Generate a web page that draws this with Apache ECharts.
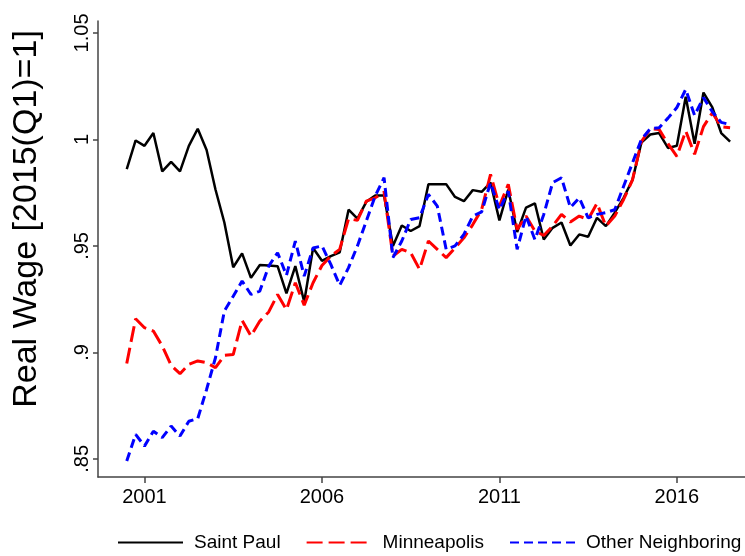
<!DOCTYPE html>
<html>
<head>
<meta charset="utf-8">
<script src="https://cdn.jsdelivr.net/npm/echarts@6/dist/echarts.min.js"></script>
<style>html,body{margin:0;padding:0;background:#fff;}</style>
</head>
<body>
<div id="myChart" style="width:745px;height:556px;"></div>
<script>
// quarterly observations, 2000Q3 - 2017Q3
var quarters = [
  '2000Q3','2000Q4','2001Q1','2001Q2','2001Q3','2001Q4','2002Q1','2002Q2','2002Q3','2002Q4',
  '2003Q1','2003Q2','2003Q3','2003Q4','2004Q1','2004Q2','2004Q3','2004Q4','2005Q1','2005Q2',
  '2005Q3','2005Q4','2006Q1','2006Q2','2006Q3','2006Q4','2007Q1','2007Q2','2007Q3','2007Q4',
  '2008Q1','2008Q2','2008Q3','2008Q4','2009Q1','2009Q2','2009Q3','2009Q4','2010Q1','2010Q2',
  '2010Q3','2010Q4','2011Q1','2011Q2','2011Q3','2011Q4','2012Q1','2012Q2','2012Q3','2012Q4',
  '2013Q1','2013Q2','2013Q3','2013Q4','2014Q1','2014Q2','2014Q3','2014Q4','2015Q1','2015Q2',
  '2015Q3','2015Q4','2016Q1','2016Q2','2016Q3','2016Q4','2017Q1','2017Q2','2017Q3'
]
var saintPaul = [
  0.986, 0.9995, 0.997, 1.003, 0.985, 0.9895, 0.985, 0.997, 1.005, 0.995,
  0.9765, 0.961, 0.940, 0.9465, 0.935, 0.941, 0.9408, 0.9405, 0.9277, 0.9405,
  0.9238, 0.949, 0.943, 0.9452, 0.947, 0.967, 0.9628, 0.9707, 0.9737, 0.9737,
  0.950, 0.9596, 0.957, 0.9593, 0.979, 0.979, 0.979, 0.973, 0.971, 0.9762,
  0.9754, 0.9797, 0.962, 0.9765, 0.9565, 0.968, 0.970, 0.953, 0.9585, 0.961,
  0.9502, 0.9554, 0.9543, 0.9632, 0.9593, 0.9656, 0.9726, 0.981, 0.9985, 1.0023,
  1.003, 0.996, 0.997, 1.020, 0.998, 1.022, 1.015, 1.003, 0.999
]
var minneapolis = [
  0.8948, 0.9158, 0.9116, 0.910, 0.903, 0.8939, 0.890, 0.8944, 0.896, 0.8952,
  0.8928, 0.8986, 0.899, 0.915, 0.9077, 0.9147, 0.919, 0.9272, 0.920, 0.9327,
  0.9222, 0.9327, 0.9408, 0.9452, 0.9484, 0.9628, 0.962, 0.971, 0.9726, 0.9753,
  0.9452, 0.9484, 0.9468, 0.939, 0.9523, 0.9484, 0.9445, 0.949, 0.9538, 0.960,
  0.9671, 0.9836, 0.9687, 0.9789, 0.9577, 0.964, 0.957, 0.9549, 0.9593, 0.9648,
  0.9612, 0.964, 0.9624, 0.970, 0.9593, 0.964, 0.9718, 0.981, 0.999, 1.005,
  1.0047, 0.998, 0.992, 1.004, 0.993, 1.006, 1.0125, 1.006, 1.0055
]
var otherNeighboring = [
  0.849, 0.8615, 0.856, 0.863, 0.860, 0.8654, 0.8607, 0.8677, 0.8689, 0.8826,
  0.8975, 0.9194, 0.9264, 0.9335, 0.9272, 0.9288, 0.9405, 0.9468, 0.9362, 0.9523,
  0.9358, 0.949, 0.950, 0.9413, 0.9315, 0.9398, 0.950, 0.9617, 0.9734, 0.982,
  0.9445, 0.9523, 0.9624, 0.9632, 0.9742, 0.9687, 0.9484, 0.950, 0.9554, 0.964,
  0.966, 0.9797, 0.967, 0.9757, 0.9484, 0.964, 0.953, 0.9648, 0.9797, 0.982,
  0.968, 0.9726, 0.9632, 0.9648, 0.9656, 0.967, 0.978, 0.989, 1.0, 1.005,
  1.0055, 1.010, 1.015, 1.0235, 1.0113, 1.0196, 1.013, 1.008, 1.007
]
var xTicks = [2001, 2006, 2011, 2016]
var yTicks = [0.85, 0.9, 0.95, 1, 1.05]
var seriesNames = ['Saint Paul', 'Minneapolis', 'Other Neighboring']

// quarter label -> fractional year
function qPos (q) {
  return parseInt(q.slice(0, 4)) + (parseInt(q.slice(5)) - 1) / 4
}
function pairs (vals) {
  return vals.map(function (v, i) { return [qPos(quarters[i]), v] })
}

var font = 'Liberation Sans, Arial, sans-serif'
var axisColor = '#444'

var myChart = echarts.init(document.getElementById('myChart'))
myChart.setOption({
  animation: false,
  textStyle: { fontFamily: font },
  grid: { left: 98, top: 21, right: 0, bottom: 79 },
  legend: {
    data: seriesNames,
    left: 112,
    top: 528,
    width: 640,
    itemWidth: 65,
    itemHeight: 14,
    itemGap: 25,
    itemStyle: { opacity: 0 },
    textStyle: { fontSize: 19, color: '#000', fontFamily: font, padding: [0, 0, 0, 6] }
  },
  xAxis: {
    type: 'value',
    min: 1999.69,
    max: 2017.92,
    splitLine: { show: false },
    axisLine: { show: true, lineStyle: { color: axisColor, width: 1.5 } },
    axisTick: { show: true, length: 6, lineStyle: { color: axisColor, width: 1.5 }, customValues: xTicks },
    axisLabel: {
      customValues: xTicks,
      fontSize: 20,
      color: '#000',
      margin: 10,
      fontFamily: font,
      formatter: function (v) { return String(v) }
    }
  },
  yAxis: {
    type: 'value',
    min: 0.8415,
    max: 1.0556,
    name: 'Real Wage [2015(Q1)=1]',
    nameLocation: 'middle',
    nameRotate: 90,
    nameGap: 54,
    nameTextStyle: { fontSize: 34, color: '#000', fontFamily: font, padding: [0, 0, 0, 60] },
    splitLine: { show: false },
    axisLine: { show: true, lineStyle: { color: axisColor, width: 1.5 } },
    axisTick: { show: true, length: 5, lineStyle: { color: axisColor, width: 1.5 }, customValues: yTicks },
    axisLabel: {
      customValues: yTicks,
      rotate: 90,
      fontSize: 20,
      color: '#000',
      margin: 6,
      fontFamily: font,
      formatter: function (v) { return String(v).replace(/^0\./, '.') }
    }
  },
  series: [
    {
      name: seriesNames[0],
      type: 'line',
      symbol: 'none',
      data: pairs(saintPaul),
      lineStyle: { color: '#000', width: 2.5 },
      itemStyle: { color: '#000' }
    },
    {
      name: seriesNames[1],
      type: 'line',
      symbol: 'none',
      data: pairs(minneapolis),
      lineStyle: { color: '#ff0000', width: 3, type: [16, 6] },
      itemStyle: { color: '#ff0000' }
    },
    {
      name: seriesNames[2],
      type: 'line',
      symbol: 'none',
      data: pairs(otherNeighboring),
      lineStyle: { color: '#0000ff', width: 3, type: [9, 5] },
      itemStyle: { color: '#0000ff' }
    }
  ]
})
</script>
</body>
</html>
